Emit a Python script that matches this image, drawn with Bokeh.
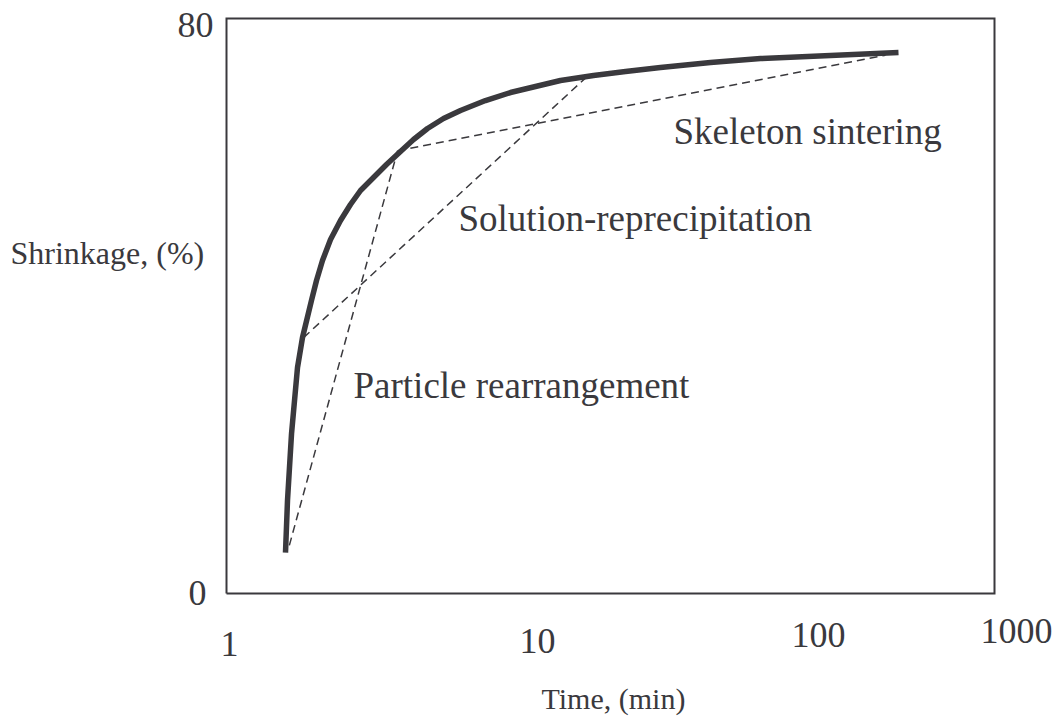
import math
from bokeh.plotting import figure
from bokeh.models import Range1d, Label
from bokeh.embed import file_html
from bokeh.resources import INLINE

# ---- data ----
curve_time = [1.700, 1.731, 1.795, 1.894, 1.981, 2.148, 2.247, 2.371, 2.549, 2.788,
              3.050, 3.338, 3.752, 4.217, 4.783, 5.378, 6.099, 7.043, 8.207, 10.27,
              12.86, 16.11, 20.17, 27.14, 36.20, 49.58, 77.74, 121.9, 228.8, 421.7]
curve_shrink = [5.70, 12.94, 22.26, 31.44, 35.62, 40.77, 43.55, 46.33, 49.25, 51.90,
                54.12, 56.07, 57.88, 59.69, 61.50, 63.17, 64.70, 66.09, 67.20, 68.59,
                69.70, 70.54, 71.37, 72.07, 72.63, 73.18, 73.88, 74.43, 74.85, 75.26]

rearr_time = [1.76, 4.66]
rearr_shrink = [6.7, 61.6]
solution_time = [2.00, 26.4]
solution_shrink = [35.6, 72.35]
skeleton_time = [4.66, 375]
skeleton_shrink = [61.6, 74.9]

axis_time = [1, 1000]
axis_shrink = [0, 80]

x_tick_labels = ["1", "10", "100", "1000"]
y_tick_labels = ["80", "0"]
stage_labels = ["Skeleton sintering", "Solution-reprecipitation", "Particle rearrangement"]
x_title = "Time, (min)"
y_title = "Shrinkage, (%)"

# ---- layout ----
W, H = 1058, 718
FL, FR, FT, FB = 226, 994, 18, 593          # pixel box of the axes frame
TEXT_DY = -13                               # baseline correction for text


def px_to_data(px, py):
    lx0, lx1 = math.log10(axis_time[0]), math.log10(axis_time[1])
    lx = lx0 + (px - FL) / (FR - FL) * (lx1 - lx0)
    y = axis_shrink[0] + (FB - py) / (FB - FT) * (axis_shrink[1] - axis_shrink[0])
    return 10 ** lx, y


xa, ya = px_to_data(0, H)
xb, yb = px_to_data(W, 0)

INK = "#3a393d"
FONT = "Liberation Serif"

p = figure(width=W, height=H, x_axis_type="log",
           x_range=Range1d(xa, xb), y_range=Range1d(ya, yb),
           output_backend="svg", toolbar_location=None,
           min_border=0, min_border_left=0, min_border_right=0,
           min_border_top=0, min_border_bottom=0)
p.xaxis.visible = False
p.yaxis.visible = False
p.xgrid.visible = False
p.ygrid.visible = False
p.outline_line_color = None
p.background_fill_color = "white"
p.border_fill_color = "white"

# axes box
bx = [axis_time[0], axis_time[1], axis_time[1], axis_time[0], axis_time[0]]
by = [axis_shrink[0], axis_shrink[0], axis_shrink[1], axis_shrink[1], axis_shrink[0]]
p.line(bx, by, line_color=INK, line_width=2, line_join="miter")

dash = "8 5"
p.line(rearr_time, rearr_shrink, line_color=INK, line_width=1.5, line_dash=dash)
p.line(solution_time, solution_shrink, line_color=INK, line_width=1.5, line_dash=dash)
p.line(skeleton_time, skeleton_shrink, line_color=INK, line_width=1.5, line_dash=dash)
p.line(curve_time, curve_shrink, line_color=INK, line_width=5.5,
       line_join="round", line_cap="butt")


def add_text(txt, px, py, size, align="left"):
    x, y = px_to_data(px, py + TEXT_DY)
    p.add_layout(Label(x=x, y=y, text=txt, text_font=FONT,
                       text_font_size=f"{size}px", text_color=INK,
                       text_align=align, text_baseline="alphabetic"))


# stage annotations
add_text(stage_labels[0], 673, 144, 37)
add_text(stage_labels[1], 458, 231, 37)
add_text(stage_labels[2], 353, 398, 37)

# tick labels
x_tick_pos = [(229, 656), (537, 653), (818, 647), (1016, 643)]
for lab, (px, py) in zip(x_tick_labels, x_tick_pos):
    add_text(lab, px, py, 36, "center")
y_tick_pos = [(195, 37), (197, 605)]
for lab, (px, py) in zip(y_tick_labels, y_tick_pos):
    add_text(lab, px, py, 36, "center")

# axis titles
add_text(y_title, 10, 265, 32)
add_text(x_title, 541, 711, 30)

open("out.html", "w").write(file_html(p, INLINE))
